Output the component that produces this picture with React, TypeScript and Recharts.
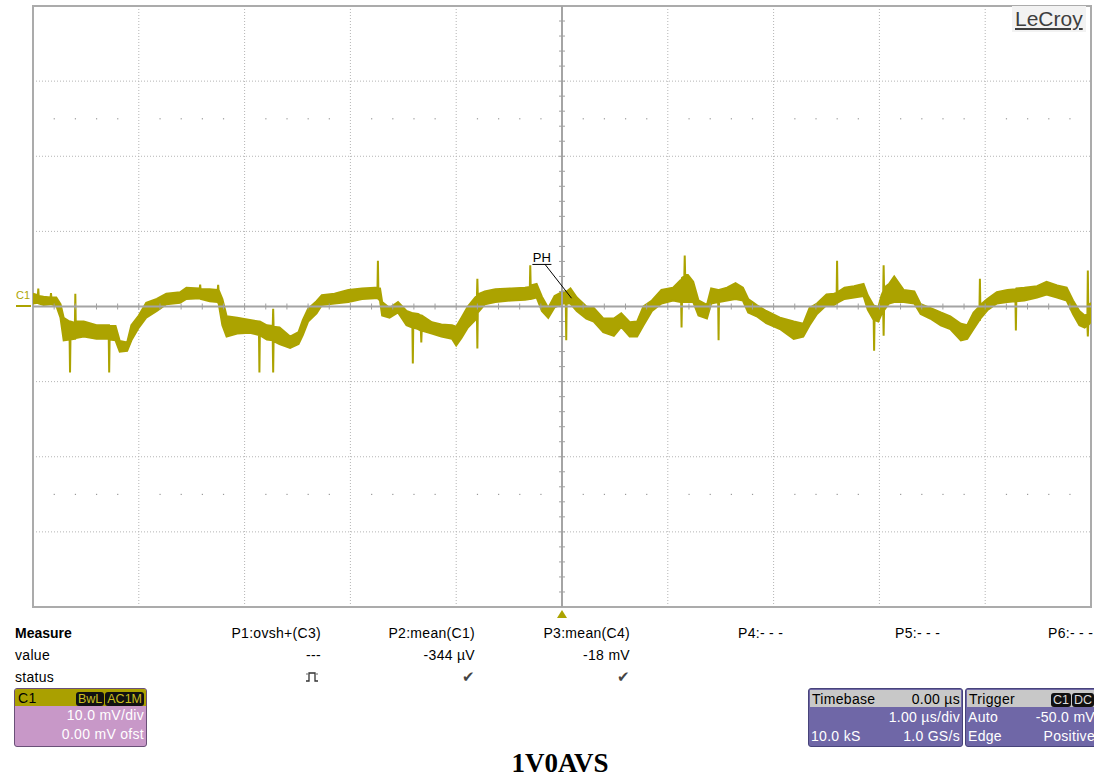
import React from 'react';
import {
  ComposedChart, Area, Scatter, XAxis, YAxis, CartesianGrid,
  ReferenceLine, ReferenceArea, ReferenceDot
} from 'recharts';

// time in µs, band of the noisy C1 trace in mV (low / high edge)
const traceT = [
  0.00, 0.046, 0.05, 0.054, 0.10, 0.166, 0.17, 0.174, 0.22, 0.26, 0.29, 0.346, 0.35, 0.354,
  0.396, 0.40, 0.404, 0.48, 0.60, 0.716, 0.72, 0.724, 0.78, 0.82, 0.89, 0.93, 1.00, 1.07,
  1.17, 1.26, 1.39, 1.45, 1.576, 1.58, 1.584, 1.67, 1.746, 1.75, 1.754, 1.79, 1.83, 1.93,
  2.05, 2.136, 2.14, 2.144, 2.21, 2.266, 2.27, 2.274, 2.33, 2.43, 2.51,
  2.55, 2.60, 2.68, 2.73, 2.85, 2.98, 3.11, 3.23, 3.256, 3.26, 3.264, 3.28, 3.30, 3.37,
  3.45, 3.53, 3.586, 3.59, 3.594, 3.64, 3.666, 3.67, 3.674, 3.77, 3.86, 3.96, 4.00, 4.05,
  4.11, 4.18, 4.196, 4.20, 4.204, 4.27, 4.37, 4.52, 4.65, 4.696, 4.70, 4.704, 4.76, 4.81,
  4.87, 4.93,
  5.01, 5.036, 5.04, 5.044, 5.08, 5.14, 5.23, 5.30, 5.39, 5.49, 5.56, 5.64, 5.71, 5.77,
  5.85, 5.94, 6.05, 6.12, 6.126, 6.13, 6.134, 6.156, 6.16, 6.164, 6.19, 6.24, 6.29, 6.37,
  6.41, 6.476, 6.48, 6.484, 6.56, 6.64, 6.71, 6.76, 6.84, 6.93, 7.06, 7.19, 7.28, 7.34,
  7.41, 7.50,
  7.57, 7.596, 7.60, 7.604, 7.67, 7.76, 7.85, 7.89, 7.946, 7.95, 7.954, 7.99, 8.02, 8.036,
  8.04, 8.044, 8.09, 8.14, 8.23, 8.33, 8.39, 8.48, 8.58, 8.67, 8.77, 8.83, 8.89, 8.946,
  8.95, 8.954, 9.02, 9.11, 9.21, 9.286, 9.29, 9.294, 9.37, 9.49, 9.58, 9.68, 9.77, 9.83,
  9.89, 9.94, 9.966, 9.97, 9.974, 10.0,
];

const traceLo = [
  0.4, 0.5, 0.5, 0.4, 0.2, 0.3, 0.3, 0.3, 0.1, -1.5, -4.5, -4.4, -8.8, -4.4,
  -4.3, -4.3, -4.2, -4.0, -4.3, -4.3, -8.8, -4.4, -4.5, -6.0, -5.9, -4.5, -2.8, -1.5,
  -0.6, 0.3, 0.5, 1.0, 1.1, 1.1, 1.0, 0.7, 0.6, 0.5, 0.5, -2.5, -4.0, -3.6,
  -3.5, -3.8, -8.8, -3.8, -4.4, -4.5, -8.8, -4.6, -5.0, -5.5, -5.0,
  -3.8, -2.0, -0.9, 0.2, 0.4, 0.6, 1.0, 1.1, 1.1, 1.1, 1.0, 0.8, -1.2, -1.5,
  -0.8, -2.5, -2.8, -7.6, -2.8, -3.0, -3.2, -4.8, -3.2, -3.6, -4.0, -4.3, -5.2, -4.2,
  -2.8, -1.8, -1.2, -5.6, -0.8, 0.3, 0.6, 0.8, 0.9, 1.0, 1.0, 1.0, 1.2, -0.6,
  -1.5, -0.1,
  0.4, 0.4, -4.5, 0.4, 0.4, -0.6, -1.6, -2.0, -3.4, -3.9, -2.7, -4.0, -4.0, -2.5,
  -0.6, 0.4, 0.8, 0.6, 0.6, -2.8, 0.6, 0.6, 0.6, 0.6, 0.6, 0.6, -1.2, -1.6,
  0.4, 0.6, -4.5, 0.6, 0.8, 1.0, 0.8, -0.8, -1.3, -2.2, -3.0, -4.3, -4.0, -2.5,
  -1.0, 0.2,
  0.2, 0.4, 0.4, 0.5, 1.0, 1.2, 1.4, -0.4, -1.8, -5.9, -1.8, -2.0, -1.0, -0.8,
  -3.9, -0.5, 0.4, 0.6, 0.6, 0.4, -1.0, -1.6, -2.5, -3.0, -4.5, -4.3, -3.0, -1.8,
  -1.8, -1.6, -0.5, 0.4, 0.6, 0.7, -3.2, 0.7, 0.8, 1.2, 1.6, 1.2, 0.8, -1.0,
  -2.5, -2.8, -2.5, -4.0, -2.5, -2.0,
];

const traceHi = [
  1.7, 1.5, 2.4, 1.4, 1.3, 1.2, 1.8, 1.2, 1.2, 0.3, -1.5, -2.0, -2.0, -2.0,
  -2.2, 1.7, -2.0, -2.0, -2.5, -2.5, -2.5, -2.6, -2.6, -4.6, -4.8, -2.5, -1.2, 0.5,
  1.0, 1.7, 1.9, 2.5, 2.4, 2.9, 2.3, 2.3, 2.2, 2.9, 2.2, 1.0, -1.3, -1.5,
  -1.8, -2.0, -2.0, -2.0, -2.5, -2.6, -0.3, -2.7, -2.8, -4.0, -3.4,
  -1.8, -0.3, 0.7, 1.5, 1.7, 2.2, 2.4, 2.5, 2.5, 6.1, 2.5, 2.4, 0.6, -0.2,
  0.6, -0.6, -0.9, -0.9, -0.9, -1.0, -1.2, -1.2, -1.2, -2.1, -2.4, -2.5, -2.7, -1.5,
  0.0, 1.2, 1.4, 3.7, 1.6, 2.0, 2.3, 2.4, 2.5, 2.6, 5.5, 2.8, 3.0, 1.3,
  -0.2, 1.4,
  2.0, 2.0, 2.0, 2.0, 2.4, 1.2, 0.0, -0.2, -1.6, -1.6, -0.9, -2.1, -2.0, 0.0,
  0.8, 2.2, 2.5, 3.5, 3.5, 3.5, 3.8, 4.0, 6.8, 4.2, 4.2, 3.3, 0.8, 0.2,
  2.4, 2.2, 2.2, 2.2, 2.5, 3.1, 2.5, 1.0, 0.2, -0.6, -1.5, -2.0, -2.3, -0.2,
  0.4, 1.6,
  1.7, 1.8, 6.1, 1.9, 2.5, 2.7, 3.0, 1.5, 0.1, 0.1, 0.1, -0.1, 1.5, 2.0,
  5.5, 2.5, 3.0, 4.0, 2.2, 2.0, 0.3, -0.2, -0.8, -1.3, -2.3, -2.5, -0.8, 0.0,
  3.7, 0.2, 1.0, 1.9, 2.2, 2.3, 2.3, 2.4, 2.5, 2.7, 3.3, 2.8, 2.5, 0.8,
  -0.6, -1.2, -1.0, 4.8, 0.0, 0.5,
];

const xTicks = [0, 1, 2, 3, 4, 5, 6, 7, 8, 9, 10];
const yTicks = [-40, -30, -20, -10, 0, 10, 20, 30, 40];

// graticule decorations (minor divisions, 1/5 of a division)
const minorT = Array.from({ length: 49 }, (_, i) => +(0.2 * (i + 1)).toFixed(1));
const minorV = Array.from({ length: 39 }, (_, i) => -38 + 2 * i);
const dotRowV = [25, -25];

const TRACE = '#aca300';
const GRID = '#b4b4b4';

const trace = traceT.map((t, i) => ({ t, band: [traceLo[i], traceHi[i]] }));
const hTickData = minorT.map(t => ({ t, v: 0 }));
const vTickData = minorV.map(v => ({ t: 5, v }));
const dotData = dotRowV.flatMap(v => minorT.filter(t => t % 1 !== 0).map(t => ({ t, v })));

const HTick = (p: any) => (
  <line x1={p.cx} x2={p.cx} y1={p.cy - 3} y2={p.cy + 3} stroke="#a0a0a0" strokeWidth={1} />
);
const VTick = (p: any) => (
  <line x1={p.cx - 3} x2={p.cx + 3} y1={p.cy} y2={p.cy} stroke="#a0a0a0" strokeWidth={1} />
);
const GridDot = (p: any) => (
  <rect x={p.cx - 0.5} y={p.cy - 0.5} width={1.2} height={1.2} fill="#9a9a9a" />
);
const TrigMark = (p: any) => (
  <polygon points={`${p.cx - 5},${p.cy + 11} ${p.cx + 5},${p.cy + 11} ${p.cx},${p.cy + 3}`} fill={TRACE} />
);

const font = '"Liberation Sans", Arial, sans-serif';

const Txt = ({ x, y, right, children, style }: any) => (
  <div style={{
    position: 'absolute', top: y - 9, lineHeight: '18px', fontSize: 14, letterSpacing: 0.3,
    whiteSpace: 'nowrap',
    ...(right !== undefined ? { right: 1094 - right } : { left: x }), ...style,
  }}>{children}</div>
);

const Badge = ({ children, color }: any) => (
  <span style={{
    background: '#111', color, borderRadius: 3, padding: '0 2px', marginLeft: 1,
    fontSize: 12.5, lineHeight: '14px', display: 'inline-block', letterSpacing: 0,
  }}>{children}</span>
);

const Check = ({ right, y }: any) => (
  <Txt right={right} y={y} style={{ color: '#444', fontSize: 15 }}>✔</Txt>
);

const PulseIcon = () => (
  <svg width={14} height={12} style={{ position: 'absolute', left: 305, top: 671 }}>
    <path d="M1 10 H4 V2 H10 V10 H13" fill="none" stroke="#333" strokeWidth={1.3} />
    <circle cx={2} cy={3} r={0.8} fill="#555" />
    <circle cx={12} cy={3} r={0.8} fill="#555" />
  </svg>
);

const boxText = { fontSize: 14, letterSpacing: 0.3 };

export default function App() {
  return (
    <div style={{
      position: 'absolute', left: 0, top: 0, width: 1094, height: 783,
      background: '#fff', overflow: 'hidden', fontFamily: font,
    }}>
      <ComposedChart width={1094} height={622} data={trace}
        margin={{ top: 6, right: 3, bottom: 15, left: 33 }}>
        <XAxis dataKey="t" type="number" domain={[0, 10]} ticks={xTicks} hide allowDataOverflow />
        <YAxis type="number" domain={[-40, 40]} ticks={yTicks} hide allowDataOverflow />
        <CartesianGrid stroke={GRID} strokeDasharray="1 2" />
        <ReferenceLine y={0} stroke="#a4a4a4" strokeWidth={2} />
        <ReferenceLine x={5} stroke="#a4a4a4" strokeWidth={2} />
        <Scatter data={hTickData} dataKey="v" shape={HTick} isAnimationActive={false} />
        <Scatter data={vTickData} dataKey="v" shape={VTick} isAnimationActive={false} />
        <Scatter data={dotData} dataKey="v" shape={GridDot} isAnimationActive={false} />
        <ReferenceArea x1={0} x2={10} y1={-40} y2={40} fill="none" stroke="#ababab" strokeWidth={2} />
        <Area dataKey="band" type="linear" stroke={TRACE} strokeWidth={2} fill={TRACE}
          fillOpacity={1} dot={false} activeDot={false} isAnimationActive={false} />
        <ReferenceLine segment={[{ x: 4.72, y: 5.6 }, { x: 4.9, y: 5.6 }]} stroke="#000" strokeWidth={1}
          label={{ value: 'PH', position: 'top', offset: 2, fill: '#000', fontSize: 13, fontFamily: font }} />
        <ReferenceLine segment={[{ x: 4.84, y: 5.6 }, { x: 5.09, y: 1.1 }]} stroke="#000" strokeWidth={1} />
        <ReferenceDot x={5} y={-40} r={0} shape={TrigMark} ifOverflow="visible" />
      </ComposedChart>

      {/* channel ground marker */}
      <div style={{ position: 'absolute', left: 16, top: 289, fontSize: 11, color: TRACE }}>C1</div>
      <div style={{ position: 'absolute', left: 16, top: 305, width: 15, height: 2, background: TRACE }} />

      {/* logo */}
      <div style={{
        position: 'absolute', left: 1012, top: 6, padding: '1px 3px', background: '#f2f2f2',
        fontSize: 21, color: '#3e3e3e', textDecoration: 'underline',
      }}>LeCroy</div>

      {/* measurement table */}
      <Txt x={15} y={633} style={{ fontWeight: 'bold', letterSpacing: 0 }}>Measure</Txt>
      <Txt x={15} y={655}>value</Txt>
      <Txt x={15} y={677}>status</Txt>
      <Txt right={321} y={633}>P1:ovsh+(C3)</Txt>
      <Txt right={321} y={655}>---</Txt>
      <PulseIcon />
      <Txt right={475} y={633}>P2:mean(C1)</Txt>
      <Txt right={475} y={655}>-344 µV</Txt>
      <Check right={475} y={677} />
      <Txt right={630} y={633}>P3:mean(C4)</Txt>
      <Txt right={630} y={655}>-18 mV</Txt>
      <Check right={630} y={677} />
      <Txt x={738} y={633}>P4:- - -</Txt>
      <Txt x={895} y={633}>P5:- - -</Txt>
      <Txt x={1048} y={633}>P6:- - -</Txt>

      {/* channel descriptor */}
      <div style={{
        position: 'absolute', left: 14, top: 688, width: 131, height: 57, background: '#c898c8',
        border: '1px solid #6a5078', borderRadius: 3, overflow: 'hidden', color: '#fff', ...boxText,
      }}>
        <div style={{
          background: '#aaa000', height: 17, display: 'flex', justifyContent: 'space-between',
          alignItems: 'center', padding: '0 2px 0 3px', color: '#000',
        }}>
          <span>C1</span>
          <span><Badge color="#c8be20">BwL</Badge><Badge color="#c8be20">AC1M</Badge></span>
        </div>
        <div style={{ textAlign: 'right', paddingRight: 2, lineHeight: '19px' }}>10.0 mV/div</div>
        <div style={{ textAlign: 'right', paddingRight: 2, lineHeight: '19px' }}>0.00 mV ofst</div>
      </div>

      {/* timebase */}
      <div style={{
        position: 'absolute', left: 808, top: 688, width: 153, height: 57, background: '#6f67a7',
        border: '1px solid #47437a', borderRadius: 3, overflow: 'hidden', color: '#fff', ...boxText,
      }}>
        <div style={{
          background: '#c8c8c8', height: 17, margin: 1, display: 'flex', justifyContent: 'space-between',
          alignItems: 'center', padding: '0 1px 0 2px', color: '#000',
        }}>
          <span>Timebase</span><span>0.00 µs</span>
        </div>
        <div style={{ textAlign: 'right', paddingRight: 2, lineHeight: '19px' }}>1.00 µs/div</div>
        <div style={{ display: 'flex', justifyContent: 'space-between', padding: '0 2px 0 2px', lineHeight: '18px' }}>
          <span>10.0 kS</span><span>1.0 GS/s</span>
        </div>
      </div>

      {/* trigger */}
      <div style={{
        position: 'absolute', left: 965, top: 688, width: 130, height: 57, background: '#6f67a7',
        border: '1px solid #47437a', borderRadius: 3, overflow: 'hidden', color: '#fff', ...boxText,
      }}>
        <div style={{
          background: '#c8c8c8', height: 17, margin: 1, display: 'flex', justifyContent: 'space-between',
          alignItems: 'center', padding: '0 1px 0 2px', color: '#000',
        }}>
          <span>Trigger</span>
          <span><Badge color="#ddd">C1</Badge><Badge color="#ddd">DC</Badge></span>
        </div>
        <div style={{ display: 'flex', justifyContent: 'space-between', padding: '0 1px 0 2px', lineHeight: '19px' }}>
          <span>Auto</span><span>-50.0 mV</span>
        </div>
        <div style={{ display: 'flex', justifyContent: 'space-between', padding: '0 1px 0 2px', lineHeight: '18px' }}>
          <span>Edge</span><span>Positive</span>
        </div>
      </div>

      {/* caption */}
      <div style={{
        position: 'absolute', left: 0, width: 1120, top: 748, textAlign: 'center',
        fontFamily: '"Liberation Serif", "Times New Roman", serif', fontWeight: 'bold', fontSize: 27,
      }}>1V0AVS</div>
    </div>
  );
}
